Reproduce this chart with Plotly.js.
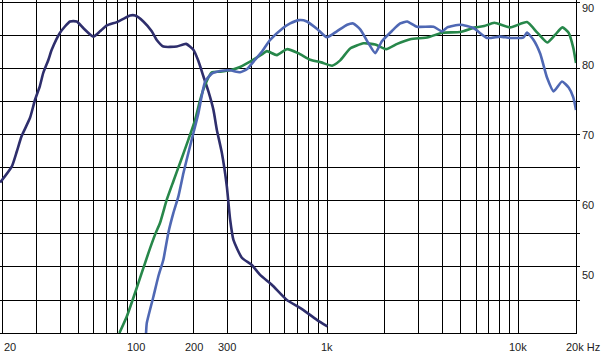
<!DOCTYPE html>
<html>
<head>
<meta charset="utf-8">
<script src="https://cdn.plot.ly/plotly-3.0.1.min.js"></script>
<style>html,body{margin:0;padding:0;background:#fff;}#chart{width:607px;height:364px;}</style>
</head>
<body>
<div id="chart"></div>
<script>
// Frequency response data (Hz, dB)
const navyF  = [19.4, 22.3, 23.7, 25.1, 27.8, 29.5, 31.3, 32.6, 34.7, 36.1, 39.9, 45.0, 48.8, 52.8, 59.6, 64.6, 70.1, 79.1, 85.6, 92.8, 98.6, 108.9, 120.5, 128, 138.6, 163, 182.3, 199, 211.4, 224.5, 238.5, 253.4, 263.9, 280.4, 297.8, 309.8, 322.4, 356.8, 402.6, 444.8, 512, 613.8, 720, 881, 1000];
const navyDB = [62.8, 65.2, 67.5, 69.8, 72.6, 75.3, 77.4, 79.4, 81.4, 82.9, 85.5, 87.2, 87.2, 86.2, 84.9, 85.7, 86.6, 87.1, 87.6, 88.1, 88.1, 87.2, 85.7, 84.4, 83.4, 83.4, 83.8, 82.9, 81.2, 78.9, 76.6, 73.8, 70.8, 67.3, 62.2, 57.2, 54.1, 51.4, 50.3, 48.8, 47.3, 45.0, 43.8, 42.0, 41.0];

const greenF  = [81.6, 89.2, 98.6, 106.8, 115.7, 125.4, 133.2, 144.4, 156.4, 169.6, 187.4, 203.2, 215.8, 229.2, 248.5, 274.7, 309.7, 349.5, 394.2, 454, 482.4, 544, 613.8, 703, 812.6, 928, 1059, 1167, 1316, 1545, 1779, 2032, 2320, 2713, 3371, 3990, 4957, 5939, 6622, 7470, 9060, 11080, 12544, 14150, 15580, 16960, 18300, 19360, 20000];
const greenDB = [40, 42.5, 46.1, 49.1, 52.1, 54.9, 56.7, 60.2, 63.0, 65.8, 69.3, 72.3, 75.3, 77.6, 79.5, 79.6, 79.8, 80.3, 81.1, 82.2, 82.7, 82.1, 83.0, 82.4, 81.4, 81.0, 80.5, 81.3, 83.1, 83.9, 83.7, 83.0, 83.8, 84.5, 84.8, 85.5, 85.6, 86.3, 86.5, 87.0, 86.3, 87.1, 85.5, 84.0, 85.2, 86.3, 85.5, 83.2, 80.9];

const blueF  = [112.5, 113.5, 122.9, 130.5, 138.6, 147.2, 156.4, 166.1, 176.4, 187.4, 199.1, 211.4, 229.2, 248.5, 274.7, 309.7, 349.5, 380.2, 418.8, 454, 501.8, 580, 638.6, 711.9, 780.7, 881, 994, 1121, 1269, 1365, 1485, 1641, 1779, 1929, 2184, 2405, 2617, 2941, 3594, 3976, 4239, 4957, 5820, 6839, 8030, 9060, 10630, 11080, 11995, 13000, 14100, 15270, 16890, 18300, 19360, 20000];
const blueDB = [40, 41.5, 45.5, 48.6, 51.1, 55.2, 58.2, 60.7, 64.2, 67.3, 70.3, 73.3, 78.1, 79.3, 79.7, 79.8, 79.5, 80.0, 81.4, 82.6, 84.4, 86.1, 86.9, 87.4, 87.2, 86.1, 84.8, 85.7, 86.7, 86.9, 86.0, 83.9, 82.4, 84.2, 85.8, 86.9, 87.2, 86.4, 86.4, 85.7, 86.3, 86.7, 86.2, 84.7, 84.9, 84.7, 84.8, 85.5, 84.4, 82.3, 78.7, 76.6, 78.1, 77.2, 75.7, 73.8];

// Grid positions and tick labels
const gridF = [20, 30, 40, 50, 60, 70, 80, 90, 100, 200, 300, 400, 500, 600, 700, 800, 900, 1000, 2000, 3000, 4000, 5000, 6000, 7000, 8000, 9000, 10000, 20000];
const gridDB = [45, 50, 55, 60, 65, 70, 75, 80, 85, 90];
const xLabelVals = [20, 100, 200, 300, 1000, 10000, 20000];
const xLabelText = ['20', '100', '200', '300', '1k', '10k', '20k Hz'];
const yLabelVals = [90, 80, 70, 60, 50];
const yLabelText = ['90', '80', '70', '60', '50'];
const yLabelShift = [-4.7, 4, 0, -4.3, -7.7];

const lineW = 2.6;
const traces = [
  {x: navyF, y: navyDB, mode: 'lines', line: {color: '#2e2e6c', width: lineW, shape: 'spline', smoothing: 0.5}},
  {x: greenF, y: greenDB, mode: 'lines', line: {color: '#27874a', width: lineW, shape: 'spline', smoothing: 0.5}},
  {x: blueF, y: blueDB, mode: 'lines', line: {color: '#4f68b4', width: lineW, shape: 'spline', smoothing: 0.5}}
];

const font = {family: 'Liberation Sans, Arial, sans-serif', size: 11, color: '#222'};
const annotations = [];
xLabelVals.forEach((v, i) => {
  const first = i === 0, last = i === xLabelVals.length - 1;
  annotations.push({
    x: Math.log10(v), xref: 'x', y: 0, yref: 'paper',
    text: xLabelText[i], showarrow: false, font: font,
    xanchor: first ? 'left' : (last ? 'left' : 'center'),
    xshift: first ? -1 : (last ? -12 : 0),
    yanchor: 'top', yshift: -6
  });
});
yLabelVals.forEach((v, i) => {
  annotations.push({
    x: 1, xref: 'paper', y: v, yref: 'y',
    text: yLabelText[i], showarrow: false, font: font,
    xanchor: 'left', xshift: 4, yanchor: 'middle', yshift: yLabelShift[i]
  });
});

const layout = {
  width: 607, height: 364,
  margin: {l: 0, r: 31, t: 0, b: 31, pad: 0},
  paper_bgcolor: '#fff', plot_bgcolor: '#fff',
  showlegend: false,
  xaxis: {
    type: 'log', range: [Math.log10(20) - 2.7 / 191, Math.log10(20000)],
    tickvals: gridF, showticklabels: false, ticks: '',
    showgrid: true, gridcolor: '#000', gridwidth: 1,
    showline: true, linecolor: '#000', linewidth: 1, zeroline: false, fixedrange: true
  },
  yaxis: {
    range: [40, 90.45], side: 'right',
    tickvals: gridDB, showticklabels: false, ticks: 'outside', ticklen: 3, tickcolor: '#000', tickwidth: 1,
    showgrid: true, gridcolor: '#000', gridwidth: 1,
    showline: true, linecolor: '#000', linewidth: 1, zeroline: false, fixedrange: true
  },
  annotations: annotations
};

Plotly.newPlot('chart', traces, layout, {staticPlot: true, displayModeBar: false});
</script>
</body>
</html>
